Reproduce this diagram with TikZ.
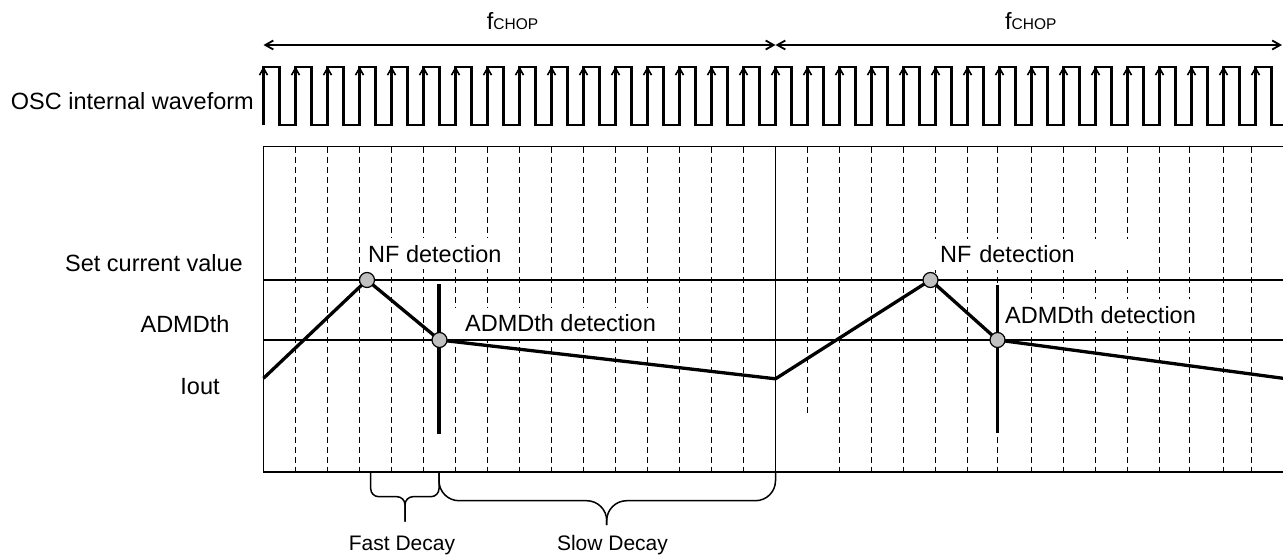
\documentclass[tikz,border=0pt]{standalone}
\usepackage{fontspec}
\setmainfont{Liberation Sans}
\usetikzlibrary{arrows.meta}
\definecolor{dotgray}{RGB}{192,192,192}
\begin{document}
\begin{tikzpicture}[x=1pt,y=-1pt,
  lbl/.style={font=\fontsize{23.5}{28}\selectfont, inner sep=0pt},
  small/.style={font=\fontsize{21}{25}\selectfont, inner sep=0pt},
  masklbl/.style={font=\fontsize{23.5}{28}\selectfont, fill=white, inner xsep=10pt, inner ysep=7pt},
  gridline/.style={line width=1.2pt},
  gdash/.style={line width=1.1pt, dash pattern=on 6pt off 4pt},
  wave/.style={line width=2.2pt, line join=miter},
  edgearrow/.style={line width=1.6pt, -{Straight Barb[length=7pt,width=8pt]}},
  period/.style={line width=1.8pt, {Straight Barb[length=8pt,width=9pt]}-{Straight Barb[length=8pt,width=9pt]}},
  iout/.style={line width=3.3pt, line join=round},
  thickbar/.style={line width=3.3pt},
  dot/.style={circle, draw, line width=1.2pt, fill=dotgray, minimum size=15pt, inner sep=0pt},
  bracepath/.style={line width=1.5pt}
]
\useasboundingbox (0,0) rectangle (1283,556);

% ---- fCHOP period arrows ----
\coordinate (c0) at (263.5,45);
\coordinate (c1) at (775.5,45);
\coordinate (c2) at (1282,45);
\draw[period] (c0) -- (c1);
\draw[period] (c1) -- (c2);
\node[lbl, anchor=base west] (fchop1) at (486.7,30) {f{\fontsize{15.5}{18}\selectfont CHOP}};
\node[lbl, anchor=base west] (fchop2) at (1005,30) {f{\fontsize{15.5}{18}\selectfont CHOP}};

% ---- OSC waveform ----
\node[lbl, anchor=base east] (osc) at (254,110) {OSC internal waveform};
\draw[wave] (263.5,125)
  \foreach \k in {0,...,30} {
    -- ({263.5+32*\k},67) -- ({279.5+32*\k},67) -- ({279.5+32*\k},125) -- ({295.5+32*\k},125)
  }
  -- (1255.5,67) -- (1271.5,67) -- (1271.5,125) -- (1284,125);
\foreach \k in {0,...,31}
  \draw[edgearrow] ({263.5+32*\k},112) -- ({263.5+32*\k},66.5);

% ---- dashed grid ----
\foreach \k in {1,...,15}
  \draw[gdash] ({263.5+32*\k},146.7) -- ({263.5+32*\k},472);
\draw[gdash] (807.5,146.7) -- (807.5,415);
\foreach \x in {839.5,871.5,903.5,935.5,967.5,997.5,1031.5,1063.5,1095.5,1127.5,1159.5,1189.5,1223.5,1251.5}
  \draw[gdash] (\x,146.7) -- (\x,472);

% ---- detection labels (white backing) ----
\node[masklbl, inner xsep=4pt, anchor=base west] (nf1l) at (364,262) {NF detection};
\node[masklbl, anchor=base west] (ad1l) at (455,331.7) {ADMDth detection};
\node[masklbl, inner xsep=6pt, anchor=base west, text width=190pt, align=left] (nf2l) at (934,263) {NF detection};
\node[masklbl, anchor=base west] (ad2l) at (995,323.3) {ADMDth detection};

% ---- frame and level lines ----
\draw[gridline] (1283,146.7) -- (263.5,146.7) -- (263.5,472) -- (1283,472);
\draw[gridline] (775.5,146.7) -- (775.5,472);
\draw[gridline] (263.5,280) -- (1283,280);
\draw[gridline] (263.5,340) -- (1283,340);

% ---- left labels ----
\node[lbl, anchor=base] (setl) at (154,271.5) {Set current value};
\node[lbl, anchor=base] (admdl) at (185,332.7) {ADMDth};
\node[lbl, anchor=base] (ioutl) at (200,394) {Iout};

% ---- current waveform ----
\coordinate (p0) at (263.5,378.3);
\coordinate (nf1) at (367,280);
\coordinate (ad1) at (439.5,340);
\coordinate (v1) at (775.5,378.8);
\coordinate (nf2) at (930.5,280);
\coordinate (ad2) at (997.5,340);
\coordinate (pend) at (1283,378.3);
\draw[iout] (p0) -- (nf1) -- (ad1) -- (v1) -- (nf2) -- (ad2) -- (pend);

\coordinate (b1t) at (439,284);
\coordinate (b1b) at (439,433.5);
\coordinate (b2t) at (997.5,285);
\coordinate (b2b) at (997.5,433);
\draw[thickbar] (b1t) -- (b1b);
\draw[thickbar] (b2t) -- (b2b);

\node[dot] (nf1d) at (nf1) {};
\node[dot] (ad1d) at (ad1) {};
\node[dot] (nf2d) at (nf2) {};
\node[dot] (ad2d) at (ad2) {};

% ---- braces ----
\draw[bracepath, rounded corners=8pt] (370.7,472.5) -- (370.7,496.7) -- (405,496.7) -- (405,521.7);
\draw[bracepath, rounded corners=8pt] (439,472.5) -- (439,496.7) -- (405,496.7) -- (405,521.7);
\draw[bracepath, rounded corners=20pt] (439,472.5) -- (439,500.7) -- (606.7,500.7) -- (606.7,525);
\draw[bracepath, rounded corners=20pt] (775.5,472.5) -- (775.5,500.7) -- (606.7,500.7) -- (606.7,525);

\node[small, anchor=base] (fastl) at (402,550.5) {Fast Decay};
\node[small, anchor=base] (slowl) at (612.5,550.5) {Slow Decay};
\end{tikzpicture}
\end{document}
